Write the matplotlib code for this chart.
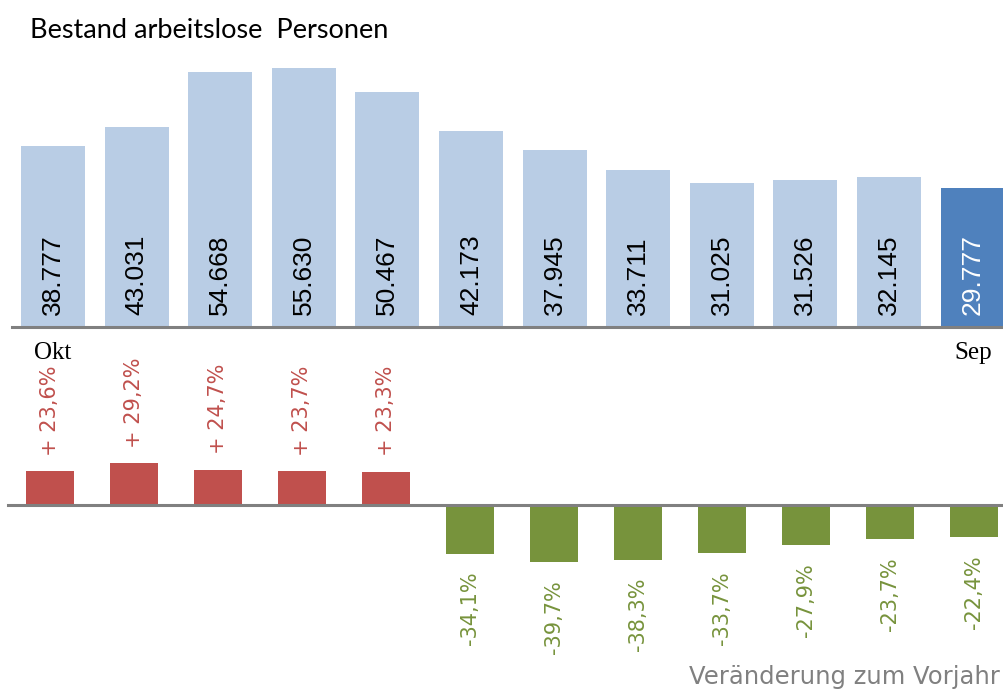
import matplotlib
matplotlib.use("Agg")
import matplotlib.pyplot as plt
import numpy as np

## Data
months = ['Okt', 'Nov', 'Dez', 'Jan', 'Feb', 'Mär', 'Apr', 'Mai', 'Jun', 'Jul', 'Aug', 'Sep']
bestand = [38777, 43031, 54668, 55630, 50467, 42173, 37945, 33711, 31025, 31526, 32145, 29777]
veraenderung = [23.6, 29.2, 24.7, 23.7, 23.3, -34.1, -39.7, -38.3, -33.7, -27.9, -23.7, -22.4]

W, H = 1004, 689
fig = plt.figure(figsize=(W / 100, H / 100), dpi=100)

x = np.arange(len(months))

## Top panel: stock of unemployed persons
step1 = 83.6
ax1 = fig.add_axes([0, (H - 327) / H, 1, 267 / H])
colors = ['#B9CDE5'] * (len(bestand) - 1) + ['#4F81BD']
ax1.bar(x, bestand, width=64 / step1, color=colors)
ax1.set_xlim(-53 / step1, (W - 53) / step1)
ax1.set_ylim(0, 267 / 0.004656)
ax1.axhline(0, xmin=12 / W, xmax=1, color='#808080', lw=2.2, clip_on=False)
for i, v in enumerate(bestand):
    txt = f'{v:,}'.replace(',', '.')
    ax1.annotate(txt, (i, 0), xytext=(0, 9), textcoords='offset points',
                 rotation=90, ha='center', va='bottom', fontsize=19,
                 family='Liberation Sans',
                 color='white' if i == len(bestand) - 1 else 'black')
ax1.axis('off')

## Bottom panel: change vs previous year
step2 = 84
ax2 = fig.add_axes([0, (H - 640) / H, 1, 280 / H])
pct_colors = ['#C0504D' if v > 0 else '#77933C' for v in veraenderung]
ax2.bar(x, veraenderung, width=48 / step2, color=pct_colors)
ax2.set_xlim(-50 / step2, (W - 50) / step2)
ax2.set_ylim(-135 / 1.43, 145 / 1.43)
ax2.axhline(0, xmin=8 / W, xmax=1, color='#808080', lw=2.2, clip_on=False)
for i, v in enumerate(veraenderung):
    if v > 0:
        txt = '+ ' + f'{v:.1f}'.replace('.', ',') + '%'
        ax2.annotate(txt, (i, v), xytext=(0, 11), textcoords='offset points',
                     rotation=90, ha='center', va='bottom', fontsize=15,
                     color='#C0504D')
    else:
        txt = f'{v:.1f}'.replace('.', ',') + '%'
        ax2.annotate(txt, (i, v), xytext=(0, -13), textcoords='offset points',
                     rotation=90, ha='center', va='top', fontsize=15,
                     color='#77933C')
ax2.axis('off')

## Month labels for first and last bar
fig.text(53 / W, 1 - 353 / H, months[0], ha='center', va='center',
         fontsize=18, family='Liberation Serif')
fig.text(973 / W, 1 - 353 / H, months[-1], ha='center', va='center',
         fontsize=18, family='Liberation Serif')

fig.text(30 / W, 1 - 30 / H, 'Bestand arbeitslose  Personen', ha='left',
         va='center', fontsize=19.5, family='Lato')
fig.text(1000 / W, 1 - 677 / H, 'Veränderung zum Vorjahr', ha='right',
         va='center', fontsize=17.5, color='#808080')

fig.savefig('out.png', dpi=100)
